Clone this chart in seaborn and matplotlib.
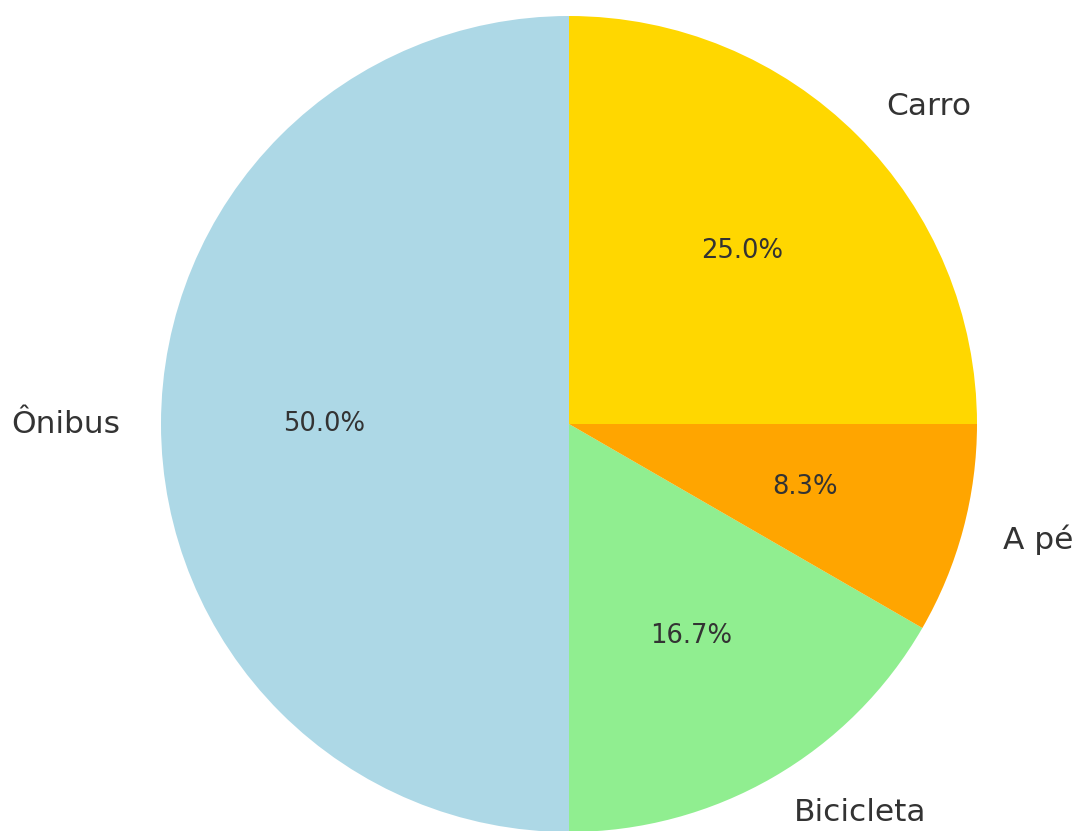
import matplotlib
matplotlib.use("Agg")
import matplotlib.pyplot as plt
import seaborn as sns

sns.set_theme(style="white")
plt.rcParams["font.family"] = ["DejaVu Sans"]

labels = ["Ônibus", "Bicicleta", "A pé", "Carro"]
values = [6, 2, 1, 3]
colors = ["#ADD8E6", "#90EE90", "#FFA500", "#FFD700"]

fig = plt.figure(figsize=(10.8, 8.31), dpi=100)
ax = fig.add_axes([0, 0, 1, 1])

wedges, texts, autotexts = ax.pie(
    values,
    labels=labels,
    colors=colors,
    autopct="%1.1f%%",
    startangle=90,
    wedgeprops={"linewidth": 0},
    textprops={"color": "#333333"},
)

for t in texts:
    t.set_fontsize(22.5)
for t in autotexts:
    t.set_fontsize(18.6)

# place pie: center (569, 424) px, radius 408 px
ax.set_aspect("auto")
ax.set_xlim(-569 / 408, (1080 - 569) / 408)
ax.set_ylim(-(831 - 424) / 408, 424 / 408)
ax.axis("off")

fig.savefig("out.png", dpi=100)
